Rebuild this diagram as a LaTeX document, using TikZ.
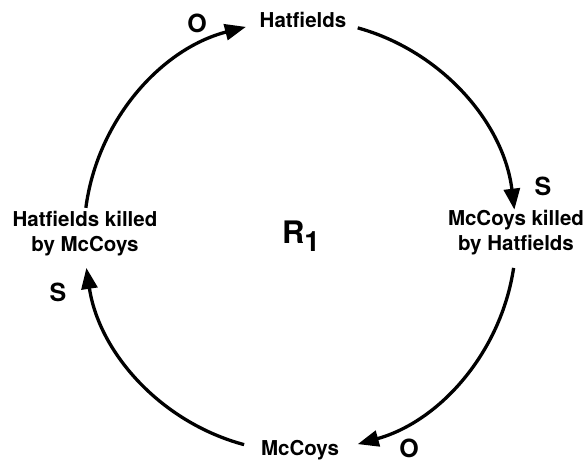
\documentclass[tikz,border=0pt]{standalone}
\usepackage{fontspec}
\setmainfont{TeX Gyre Heros}
\usetikzlibrary{arrows.meta,calc}
\begin{document}
\begin{tikzpicture}[x=1pt,y=1pt,
  lbl/.style={font=\fontsize{20.5}{25}\selectfont\bfseries, align=center, inner sep=0pt},
  pol/.style={font=\fontsize{25}{25}\selectfont\bfseries, inner sep=0pt},
  link/.style={line width=3.3pt, -{Triangle[length=21pt,width=16pt]}}]
\useasboundingbox (0,0) rectangle (587,-465);
\coordinate (c) at (300,-236);
\node[lbl] (top) at (303,-20) {Hatfields};
\node[lbl] (right) at (516,-233) {McCoys killed\\by Hatfields};
\node[lbl] (bottom) at (300,-450) {McCoys};
\node[lbl] (left) at (85,-234) {Hatfields killed\\by McCoys};
\node[inner sep=0pt] (r1) at (301,-236) {\fontsize{31}{31}\selectfont\bfseries R\raisebox{-8pt}{\fontsize{28}{30}\selectfont 1}};
\node[pol] (o1) at (197,-23) {O};
\node[pol] (s1) at (543,-186) {S};
\node[pol] (o2) at (409,-448) {O};
\node[pol] (s2) at (58,-292) {S};
\coordinate (a1) at ($(c)+(172.5:216)$);
\coordinate (a2) at ($(c)+(74.5:216)$);
\coordinate (a3) at ($(c)+(-8.5:216)$);
\coordinate (a4) at ($(c)+(-105:216)$);
\draw[link] (a1) arc[start angle=172.5, end angle=104.5, radius=216];
\draw[link] (a2) arc[start angle=74.5, end angle=7, radius=216];
\draw[link] (a3) arc[start angle=-8.5, end angle=-74.5, radius=216];
\draw[link] (a4) arc[start angle=-105, end angle=-171.5, radius=216];
\end{tikzpicture}
\end{document}
